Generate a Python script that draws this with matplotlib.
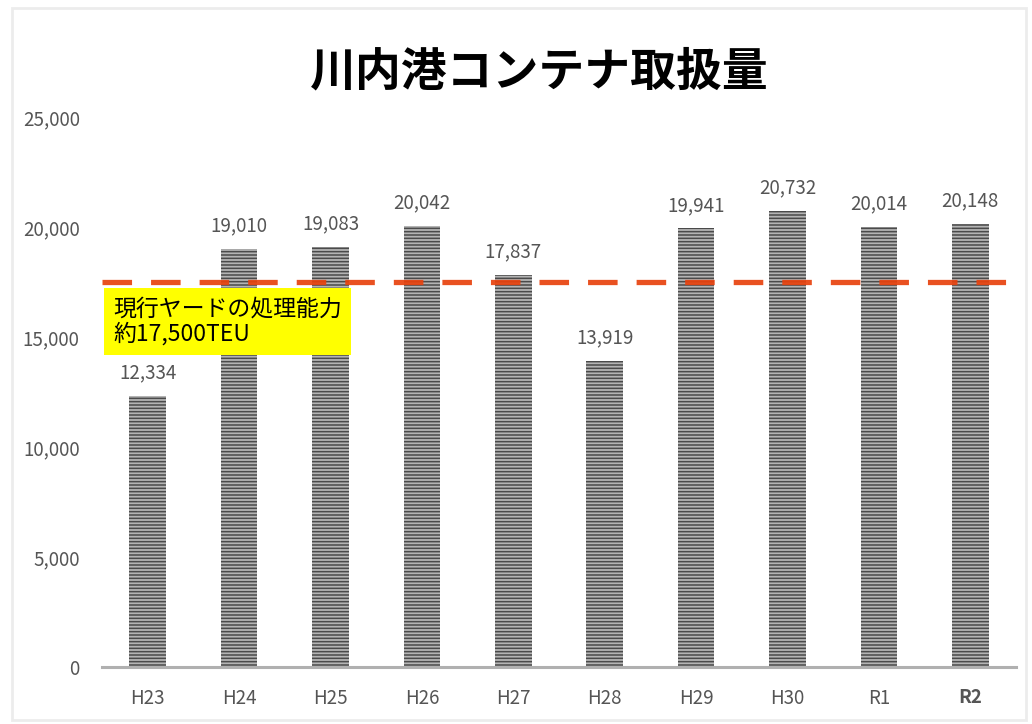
import matplotlib
matplotlib.use("Agg")
import matplotlib.pyplot as plt
from matplotlib.patches import Rectangle

plt.rcParams['font.family'] = ['Noto Sans CJK JP', 'DejaVu Sans']
plt.rcParams['hatch.linewidth'] = 1.1

# Data
years = ["H23", "H24", "H25", "H26", "H27", "H28", "H29", "H30", "R1", "R2"]
teu = [12334, 19010, 19083, 20042, 17837, 13919, 19941, 20732, 20014, 20148]
capacity = 17500
yticks = [0, 5000, 10000, 15000, 20000, 25000]

fig = plt.figure(figsize=(10.32, 7.24), dpi=100)
ax = fig.add_axes([0.0988, 0.0787, 0.8857, 0.7597])

x = list(range(len(years)))
ax.bar(x, teu, width=0.4, facecolor='#b4b4b4', edgecolor='#4a4a4a',
       linewidth=0, hatch='-----', zorder=2)

for xi, v in zip(x, teu):
    ax.annotate(f"{v:,}", (xi, v), xytext=(0, 9), textcoords='offset points',
                ha='center', va='bottom', fontsize=13.5, color='#555555')

# Capacity line of the current yard
ax.axhline(capacity, color='#e8420e', lw=3.8, dashes=(5.6, 3.6),
           alpha=0.92, zorder=3)

ax.text(-0.38, 15700, "現行ヤードの処理能力\n約17,500TEU", fontsize=16.5,
        color='black', ha='left', va='center', linespacing=1.1,
        bbox=dict(boxstyle='square,pad=0.4', facecolor='#ffff00',
                  edgecolor='none'), zorder=4)

ax.set_xlim(-0.5, len(years) - 0.5)
ax.set_ylim(0, 25000)
ax.set_yticks(yticks)
ax.set_yticklabels([f"{t:,}" for t in yticks])
ax.set_xticks(x)
ax.set_xticklabels(years)
ax.tick_params(axis='both', length=0, labelsize=13.5, labelcolor='#555555')
ax.tick_params(axis='y', pad=16)
ax.tick_params(axis='x', pad=15)
ax.get_xticklabels()[-1].set_fontweight('bold')

for s in ['top', 'right', 'left']:
    ax.spines[s].set_visible(False)
ax.spines['bottom'].set_color('#b0b0b0')
ax.spines['bottom'].set_linewidth(2.2)

fig.text(0.523, 0.9, "川内港コンテナ取扱量", ha='center', va='center',
         fontsize=33, fontweight='semibold', color='black')

fig.patches.append(Rectangle((0.012, 0.005), 0.982, 0.984, transform=fig.transFigure,
                             fill=False, edgecolor='#ececec', lw=2))

fig.savefig("out.png", dpi=100)
